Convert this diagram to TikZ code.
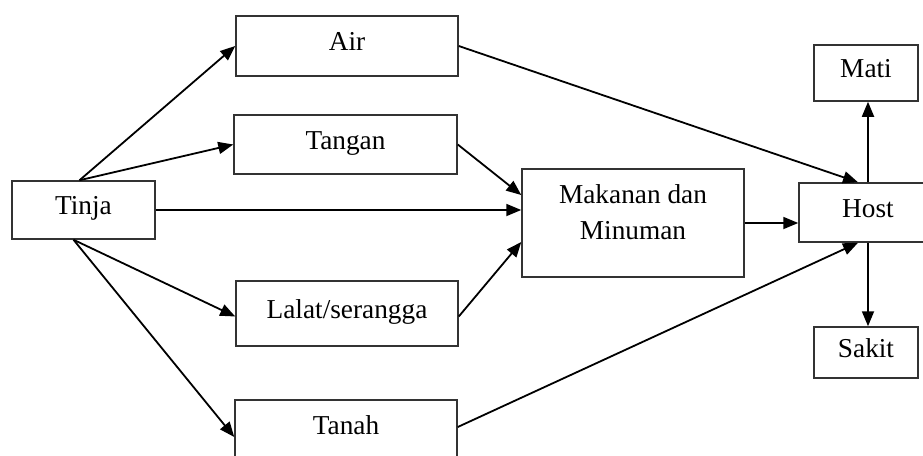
\documentclass[tikz,border=0pt]{standalone}
\usepackage{fontspec}
\setmainfont{Liberation Serif}
\usetikzlibrary{arrows.meta}
\begin{document}
\begin{tikzpicture}[x=1pt,y=-1pt,
  box/.style={draw=black!80, line width=1.5pt, align=center, inner sep=0pt,
    text height=18pt, text depth=9pt,
    font=\fontsize{27.3}{36}\selectfont},
  arr/.style={line width=1.8pt, -{Triangle[length=15pt,width=12pt]}}]
\useasboundingbox (0,0) rectangle (923,455);
\clip (0,0) rectangle (923,455);
\node[box, minimum width=143pt, minimum height=58pt] (tinja) at (83.5,210) {Tinja};
\node[box, minimum width=222pt, minimum height=60pt] (air) at (347,46) {Air};
\node[box, minimum width=223pt, minimum height=59pt] (tangan) at (345.5,144.5) {Tangan};
\node[box, minimum width=222pt, minimum height=65pt] (lalat) at (347,313.5) {Lalat/serangga};
\node[box, minimum width=222pt, minimum height=60pt] (tanah) at (346,430) {Tanah};
\node[box, minimum width=222pt, minimum height=108pt, text height=54pt, text depth=22pt] (makanan) at (633,223) {Makanan dan\\Minuman};
\node[box, minimum width=138pt, minimum height=59pt] (host) at (868,212.5) {Host};
\node[box, minimum width=104pt, minimum height=56pt] (mati) at (866,73) {Mati};
\node[box, minimum width=104pt, minimum height=51pt] (sakit) at (866,352.5) {Sakit};

\draw[arr] ([xshift=-4pt]tinja.north) -- (air.west);
\draw[arr] ([xshift=-4pt]tinja.north) -- (tangan.west);
\draw[arr] ([xshift=-10pt]tinja.south) -- ([yshift=-3pt]lalat.west);
\draw[arr] ([xshift=-10pt]tinja.south) -- ([yshift=-7pt]tanah.west);
\draw[arr] (tinja.east) -- (tinja.east -| makanan.west);
\draw[arr] (air.east) -- ([xshift=-10pt]host.north);
\draw[arr] (tangan.east) -- ([yshift=28pt]makanan.west);
\draw[arr] ([yshift=-3pt]lalat.east) -- ([yshift=-19pt]makanan.west);
\draw[arr] ([yshift=3pt]tanah.east) -- ([xshift=-10pt]host.south);
\draw[arr] (makanan.east) -- (makanan.east -| host.west);
\draw[arr] (host.north) -- (host.north |- mati.south);
\draw[arr] (host.south) -- (host.south |- sakit.north);
\end{tikzpicture}
\end{document}
